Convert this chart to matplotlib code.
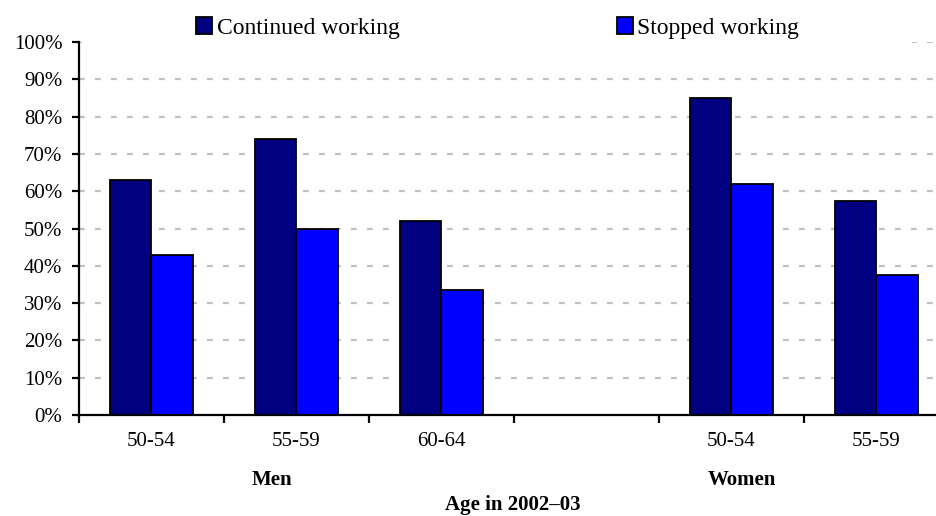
import matplotlib.pyplot as plt
from matplotlib.patches import Rectangle
import numpy as np

# data
age_groups = ['50-54', '55-59', '60-64', '', '50-54', '55-59']
continued = [63, 74, 52, np.nan, 85, 57.5]
stopped = [43, 50, 33.5, np.nan, 62, 37.5]
sex_labels = ['Men', 'Women']
sex_pos = [0.83, 4.07]

plt.rcParams['font.family'] = ['Liberation Serif', 'DejaVu Serif']

fig = plt.figure(figsize=(9.37, 5.16), dpi=100)
ax = fig.add_axes([0.0843, 0.1957, 0.9285, 0.7229])

x = np.arange(len(age_groups))
w = 0.287
ax.bar(x - w / 2, continued, w, color='#000080', edgecolor='black',
       linewidth=1.3, label='Continued working', zorder=3)
ax.bar(x + w / 2, stopped, w, color='#0000FF', edgecolor='black',
       linewidth=1.3, label='Stopped working', zorder=3)

ax.set_xlim(-0.5, len(age_groups) - 0.5)
ax.set_ylim(0, 100)

# gridlines
for v in range(10, 101, 10):
    ax.axhline(v, color='#C0C0C0', linewidth=1.6, linestyle=(0, (2.6, 4.6)), zorder=1)

ax.set_yticks(range(0, 101, 10))
ax.set_yticklabels([f'{v}%' for v in range(0, 101, 10)])
ax.set_xticks(x)
ax.set_xticklabels(age_groups)
ax.set_xticks(np.arange(-0.5, len(age_groups), 1.0), minor=True)
ax.tick_params(axis='x', which='major', length=0, pad=12, labelsize=15)
ax.tick_params(axis='x', which='minor', length=6, width=1.6, direction='out')
ax.tick_params(axis='y', length=5, width=1.6, pad=7, labelsize=15)

for s in ['top', 'right']:
    ax.spines[s].set_visible(False)
for s in ['left', 'bottom']:
    ax.spines[s].set_linewidth(1.6)
    ax.spines[s].set_zorder(4)

# group labels and axis title
for lab, p in zip(sex_labels, sex_pos):
    ax.text(p, -0.174, lab, transform=ax.get_xaxis_transform(), ha='center',
            va='center', fontsize=15, fontweight='bold')
ax.text(2.49, -0.241, 'Age in 2002\u201303', transform=ax.get_xaxis_transform(),
        ha='center', va='center', fontsize=15, fontweight='bold')

# white legend area hiding the top gridline (as in the original)
ax.add_patch(Rectangle((0.003, 0.98), 0.954, 0.12, transform=ax.transAxes,
                       facecolor='white', edgecolor='none', clip_on=False, zorder=5))
leg = fig.legend(loc='center', bbox_to_anchor=(0.531, 0.9457), ncol=2, frameon=False,
                 fontsize=17, handlelength=0.68, handleheight=0.68,
                 handletextpad=0.2, columnspacing=9.2, borderpad=0)
leg.set_zorder(6)

fig.savefig('out.png', dpi=100)
